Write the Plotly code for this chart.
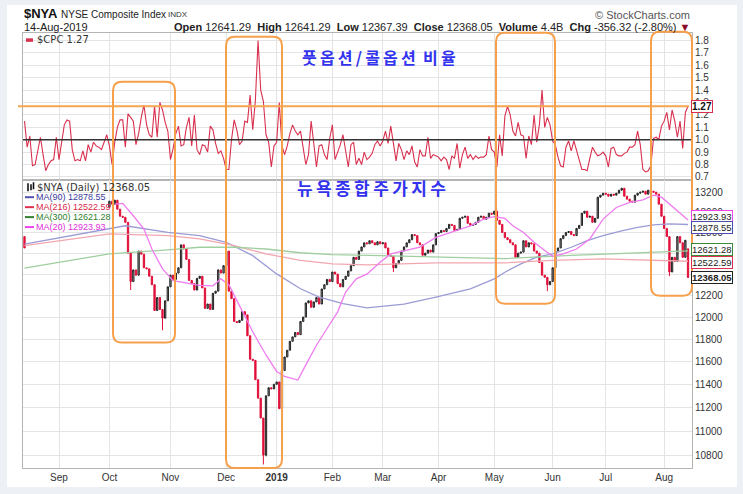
import math
import pandas as pd
import plotly.graph_objects as go

W, H = 743, 494

# ---------------- data ----------------
holidays = ["2018-09-03", "2018-11-22", "2018-12-05", "2018-12-25", "2019-01-01",
            "2019-01-21", "2019-02-18", "2019-04-19", "2019-05-27", "2019-07-04"]
dates = [d for d in pd.bdate_range("2018-08-15", "2019-08-14")
         if d.strftime("%Y-%m-%d") not in holidays]

month_labels = ["Sep", "Oct", "Nov", "Dec", "<b>2019</b>", "Feb", "Mar", "Apr",
                "May", "Jun", "Jul", "Aug"]

cpc = [1.15, 0.94, 1.03, 0.79, 0.80, 0.92, 1.02, 0.88, 0.75, 0.80,
       0.83, 0.84, 1.02, 0.84, 1.00, 1.12, 1.16, 1.15, 0.92, 0.83,
       0.84, 0.83, 0.91, 0.83, 0.96, 0.90, 0.98, 0.95, 0.94, 0.92,
       0.98, 1.04, 0.95, 0.80, 0.98, 1.10, 1.16, 1.16, 0.94, 1.21,
       1.18, 1.15, 0.96, 1.05, 1.18, 1.28, 1.12, 1.04, 1.02, 1.27,
       1.02, 1.30, 1.24, 1.14, 1.07, 0.84, 0.93, 1.05, 1.11, 0.95,
       0.96, 1.10, 1.18, 0.95, 1.20, 0.92, 0.88, 0.96, 0.95, 0.90,
       1.11, 1.08, 0.97, 0.89, 0.91, 0.85, 0.76, 0.76, 1.00, 1.16,
       1.08, 0.96, 0.99, 1.15, 1.14, 1.36, 1.08, 1.32, 1.80, 1.40,
       1.31, 1.04, 0.98, 0.78, 0.95, 0.98, 1.30, 0.95, 0.88, 0.95,
       1.05, 1.12, 1.07, 1.04, 1.07, 0.95, 0.80, 0.88, 1.15, 0.97,
       0.78, 0.95, 0.96, 0.88, 0.84, 1.01, 1.12, 0.84, 0.90, 0.96,
       1.04, 0.90, 0.78, 0.96, 0.98, 0.80, 0.85, 0.80, 0.90, 0.84,
       0.86, 0.89, 0.96, 0.99, 0.95, 0.99, 1.07, 0.97, 1.11, 0.97,
       0.83, 0.97, 0.92, 0.84, 0.91, 0.88, 0.95, 0.82, 0.78, 0.92,
       0.87, 0.87, 1.02, 0.85, 0.88, 0.87, 0.86, 0.83, 0.86, 0.84,
       0.76, 0.87, 0.85, 0.97, 0.77, 0.88, 0.94, 0.85, 0.88, 0.84,
       0.87, 0.85, 0.86, 0.86, 0.88, 1.03, 0.92, 0.90, 0.78, 1.04,
       0.87, 1.19, 1.27, 1.20, 1.07, 1.03, 1.14, 1.04, 1.03, 0.85,
       1.03, 0.96, 1.20, 0.98, 1.12, 1.40, 1.10, 1.18, 1.12, 0.99,
       0.96, 0.86, 0.79, 0.78, 0.94, 0.99, 0.91, 0.99, 0.91, 0.84,
       0.76, 0.76, 0.75, 0.85, 0.94, 0.90, 0.87, 0.88, 0.90, 0.87,
       0.78, 0.93, 0.94, 0.88, 0.87, 0.87, 0.89, 0.90, 0.94, 0.94,
       0.96, 1.07, 0.96, 0.76, 0.74, 0.75, 0.79, 1.01, 1.02, 1.00,
       1.11, 1.15, 1.22, 1.08, 1.24, 1.15, 1.02, 1.15, 0.93, 1.22, 1.27]

# NYA daily closes: one early print (day 0), then from day 32 (1-Oct-2018) onward
nya_first_close = 12650
nya_start = 32
nya_close = [13110, 13080, 13120, 13030, 12960, 12950, 12900, 12600, 12330, 12440,
             12390, 12620, 12590, 12460, 12450, 12380, 12300, 12060, 12180, 12070,
             11990, 12150, 12280, 12390, 12350, 12410, 12460, 12680, 12640, 12540,
             12340, 12310, 12250, 12360, 12380, 12270, 12080, 12120, 12070, 12220,
             12240, 12440, 12410, 12480, 12620, 12240, 12170, 11960, 11950, 11970,
             12050, 12020, 11830, 11620, 11610, 11440, 11280, 11110, 10800, 11300,
             11370, 11360, 11400, 11420, 11190, 11520, 11640, 11700, 11780, 11820,
             11860, 11840, 11960, 12000, 12130, 12150, 12090, 12140, 12180, 12120,
             12260, 12300, 12350, 12330, 12420, 12400, 12310, 12280, 12350, 12380,
             12430, 12480, 12560, 12540, 12620, 12660, 12700, 12690, 12720, 12700,
             12680, 12710, 12690, 12700, 12650, 12580, 12570, 12460, 12500, 12530,
             12620, 12660, 12700, 12730, 12780, 12770, 12700, 12680, 12580, 12600,
             12630, 12610, 12680, 12790, 12800, 12820, 12810, 12840, 12880, 12870,
             12820, 12830, 12940, 12950, 12960, 12890, 12870, 12880, 12900, 12950,
             12960, 12930, 12950, 12990, 12980, 13010, 12920, 12880, 12800, 12750,
             12730, 12700, 12680, 12560, 12600, 12610, 12720, 12660, 12700, 12690,
             12620, 12600, 12510, 12390, 12370, 12300, 12330, 12460, 12620, 12650,
             12740, 12770, 12800, 12810, 12780, 12770, 12840, 12870, 12990, 13010,
             12950, 12960, 12900, 12940, 13150, 13170, 13190, 13180, 13160, 13180,
             13170, 13190, 13220, 13240, 13160, 13130, 13110, 13100, 13170, 13190,
             13200, 13210, 13180, 13220, 13210, 13200, 13180, 13080, 12960, 12840,
             12760, 12420, 12560, 12520, 12760, 12700, 12560, 12724.37, 12368.05]
open_fix_idx = [0, 32, 250]
open_fix_val = [12760, 13050, 12641.29]
wick_idx = [40, 52, 90, 91, 139, 197, 243, 250]
wick_low = [12250, 11880, 10723, 10790, 12420, 12240, 12380, 12367.39]

ma20_idx = [34, 37, 41, 45, 48, 52, 56, 60, 66, 71, 74, 77, 81, 86, 91, 95, 98, 100, 103,
            106, 110, 114, 118, 121, 125, 129, 134, 138, 143, 149, 155, 162, 168, 173,
            177, 181, 184, 188, 192, 196, 199, 203, 208, 213, 218, 223, 228, 233, 237,
            240, 243, 246, 250]
ma20_val = [13080, 13088, 12965, 12834, 12640, 12450, 12339, 12320, 12293, 12290, 12355,
            12300, 12108, 11866, 11658, 11512, 11468, 11453, 11437, 11570, 11745, 11896,
            12048, 12231, 12355, 12400, 12513, 12593, 12625, 12657, 12753, 12817, 12866,
            12932, 12957, 12938, 12866, 12801, 12705, 12625, 12570, 12593, 12640, 12737,
            12932, 13047, 13098, 13123, 13170, 13150, 13080, 13010, 12923.93]
ma90_idx = [0, 38, 54, 66, 76, 86, 95, 104, 111, 120, 129, 143, 155, 168, 177, 181, 187,
            193, 199, 206, 212, 218, 225, 231, 237, 243, 250]
ma90_val = [12688, 12866, 12801, 12769, 12705, 12576, 12402, 12262, 12185, 12124, 12085,
            12120, 12185, 12262, 12355, 12418, 12497, 12561, 12593, 12657, 12721, 12769,
            12817, 12850, 12875, 12885, 12878.55]
ma216_idx = [0, 32, 54, 66, 79, 91, 104, 116, 129, 155, 181, 199, 218, 237, 250]
ma216_val = [12672, 12786, 12769, 12737, 12672, 12593, 12530, 12497, 12487, 12507, 12507,
             12530, 12545, 12535, 12522.59]
ma300_idx = [0, 32, 54, 66, 79, 91, 104, 116, 130, 155, 181, 206, 231, 243, 250]
ma300_val = [12457, 12593, 12631, 12657, 12657, 12640, 12604, 12585, 12578, 12561, 12548,
             12578, 12604, 12610, 12621.28]

# ---------------- build ----------------
N = len(dates)
x = list(range(N))
month_idx = [i for i in range(1, N) if dates[i].month != dates[i - 1].month]

close = [None] * N
close[0] = nya_first_close
for k, v in enumerate(nya_close):
    close[nya_start + k] = v
opn = [None] * N
for i in range(N):
    if close[i] is None:
        continue
    opn[i] = close[i - 1] if i > 0 and close[i - 1] is not None else close[i]
for i, v in zip(open_fix_idx, open_fix_val):
    opn[i] = v
high = [None if c is None else max(o, c) for o, c in zip(opn, close)]
low = [None if c is None else min(o, c) for o, c in zip(opn, close)]
for i, v in zip(wick_idx, wick_low):
    low[i] = min(low[i], v)


def X(px):
    return px / W


def Y(py):
    return 1 - py / H


fig = go.Figure()

CPC_COL = "#d8304e"
fig.add_trace(go.Scatter(x=x, y=cpc, mode="lines", line=dict(color=CPC_COL, width=1.1),
                         xaxis="x", yaxis="y", hoverinfo="skip"))

fig.add_trace(go.Scatter(x=ma90_idx, y=ma90_val, mode="lines",
                         line=dict(color="#9b9bd6", width=1.3), xaxis="x2", yaxis="y2"))
fig.add_trace(go.Scatter(x=ma216_idx, y=ma216_val, mode="lines",
                         line=dict(color="#f2a7b0", width=1.3), xaxis="x2", yaxis="y2"))
fig.add_trace(go.Scatter(x=ma300_idx, y=ma300_val, mode="lines",
                         line=dict(color="#9fcf9f", width=1.3), xaxis="x2", yaxis="y2"))
fig.add_trace(go.Scatter(x=ma20_idx, y=ma20_val, mode="lines",
                         line=dict(color="#ef7cef", width=1.3), xaxis="x2", yaxis="y2"))

fig.add_trace(go.Candlestick(
    x=x, open=opn, high=high, low=low, close=close, xaxis="x2", yaxis="y2",
    increasing=dict(line=dict(color="#222222", width=1), fillcolor="#a0a0a0"),
    decreasing=dict(line=dict(color="#e0103a", width=1), fillcolor="#e0103a"),
    whiskerwidth=0, hoverinfo="skip"))

grid = "#e4e4e4"
frame = "#b4b4b4"
tickfont = dict(family="Liberation Sans, Arial", size=10, color="#333")
xr = [-0.565, 251.5]

cpc_ticks = [round(0.7 + 0.1 * k, 1) for k in range(12)]
nya_ticks = list(range(10800, 13201, 200))
nya_text = ["" if v in (12400, 12600) else str(v) for v in nya_ticks]

fig.update_layout(
    width=W, height=H, margin=dict(l=0, r=0, t=0, b=0),
    paper_bgcolor="#edf0f5", plot_bgcolor="white", showlegend=False,
    xaxis=dict(domain=[X(23), X(692)], range=xr, anchor="y", tickvals=month_idx,
               showticklabels=False, showgrid=True, gridcolor=grid, zeroline=False,
               showline=True, mirror=True, linecolor=frame, ticks=""),
    yaxis=dict(domain=[Y(181), Y(33)], range=[0.673, 1.862], side="right",
               tickvals=cpc_ticks, ticktext=["%.1f" % v for v in cpc_ticks],
               tickfont=tickfont, showgrid=True, gridcolor=grid, zeroline=False,
               showline=True, mirror=True, linecolor=frame, ticks=""),
    xaxis2=dict(domain=[X(23), X(692)], range=xr, anchor="y2", tickvals=month_idx,
                ticktext=month_labels, tickfont=tickfont, showgrid=True, gridcolor=grid,
                zeroline=False, showline=True, mirror=True, linecolor=frame, ticks="",
                rangeslider=dict(visible=False)),
    yaxis2=dict(domain=[Y(470), Y(181)], type="log", range=[4.02912, 4.12453],
                side="right", tickvals=nya_ticks, ticktext=nya_text, tickfont=tickfont,
                showgrid=True, gridcolor=grid, zeroline=False, showline=True, mirror=True,
                linecolor=frame, ticks=""),
)

shapes = []
# white page card
shapes.append(dict(type="rect", xref="paper", yref="paper", x0=X(7), x1=X(737),
                   y0=Y(489), y1=Y(5), fillcolor="white", line=dict(width=0), layer="below"))
# 1.0 reference line
shapes.append(dict(type="line", xref="paper", yref="y", x0=X(23), x1=X(692), y0=1.0, y1=1.0,
                   line=dict(color="#333333", width=1.5)))
# orange 1.27 line
shapes.append(dict(type="line", xref="paper", yref="y", x0=X(18), x1=X(689), y0=1.27, y1=1.27,
                   line=dict(color="#f6a552", width=2)))


def rbox(x0, y0, x1, y1, r=9):
    rx, ry = r / W, r / H
    a0, a1, b0, b1 = X(x0), X(x1), Y(y1), Y(y0)
    p = (f"M{a0 + rx},{b1} L{a1 - rx},{b1} Q{a1},{b1} {a1},{b1 - ry} "
         f"L{a1},{b0 + ry} Q{a1},{b0} {a1 - rx},{b0} L{a0 + rx},{b0} "
         f"Q{a0},{b0} {a0},{b0 + ry} L{a0},{b1 - ry} Q{a0},{b1} {a0 + rx},{b1} Z")
    return dict(type="path", xref="paper", yref="paper", path=p,
                line=dict(color="#f6a04c", width=2))


for b in [(113, 82, 175, 344), (226, 37, 282, 470), (496, 33, 555, 305), (651, 32, 692, 297)]:
    shapes.append(rbox(*b))

# legend markers
shapes.append(dict(type="rect", xref="paper", yref="paper", x0=X(26), x1=X(33),
                   y0=Y(42), y1=Y(38.5), fillcolor=CPC_COL, line=dict(width=0)))
for yy, col in [(198, "#5050b0"), (208, "#e03050"), (218, "#2f7f2f"), (228, "#ee44ee")]:
    shapes.append(dict(type="line", xref="paper", yref="paper", x0=X(25), x1=X(34),
                       y0=Y(yy), y1=Y(yy), line=dict(color=col, width=2)))
for xx, y0, y1 in [(28, 184, 192), (31, 185, 191), (33.5, 183, 190)]:
    shapes.append(dict(type="line", xref="paper", yref="paper", x0=X(xx), x1=X(xx),
                       y0=Y(y1), y1=Y(y0), line=dict(color="#111", width=1.6)))
fig.update_layout(shapes=shapes)

ann = []


def txt(px, py, s, size=11, color="#222", family="Liberation Sans, Arial", anchor="left"):
    ann.append(dict(xref="paper", yref="paper", x=X(px), y=Y(py), text=s, showarrow=False,
                    xanchor=anchor, yanchor="middle", font=dict(family=family, size=size,
                                                                color=color)))


TS = "\u2009"
txt(22, 14, "<b>$NYA</b>", size=13, color="#111")
txt(59, 15, "NYSE Composite Index", size=10, color="#222")
txt(166, 15, "INDX", size=8, color="#333")
txt(22, 27, "14-Aug-2019", size=11, color="#222")
txt(692, 15, "© StockCharts.com", size=11, color="#555", anchor="right")
txt(692, 27, "<b>Open</b> 12641.29  <b>High</b> 12641.29  <b>Low</b> 12367.39  "
    "<b>Close</b> 12368.05  <b>Volume</b> 4.4B  <b>Chg</b> -356.32 (-2.80%) "
    "<span style='color:#8b0a2a'>▼</span>", size=11, color="#222", anchor="right")

txt(35, 40, "$CPC 1.27", size=10, color="#333", family="DejaVu Sans, Verdana")
txt(35, 188, "$NYA (Daily) 12368.05", size=10, color="#333", family="DejaVu Sans, Verdana")
txt(34, 198, "MA(90) 12878.55", size=9, color="#3a3a9a")
txt(34, 208, "MA(216) 12522.59", size=9, color="#d8284a")
txt(34, 218, "MA(300) 12621.28", size=9, color="#2f7f2f")
txt(34, 228, "MA(20) 12923.93", size=9, color="#e030e0")

kr1 = TS.join(list("풋옵션/콜옵션")) + "  " + TS.join(list("비율"))
kr2 = TS.join(list("뉴욕종합주가지수"))
txt(300, 57, "<b>%s</b>" % kr1, size=16, color="#3333ee", family="Noto Sans CJK KR")
txt(295, 188, "<b>%s</b>" % kr2, size=17, color="#3333ee", family="Noto Sans CJK KR")

# value boxes on right axis
ann.append(dict(xref="paper", yref="y", x=X(691), y=1.27, text="<b>1.27</b>", showarrow=False,
                xanchor="left", yanchor="middle", bgcolor="white", bordercolor="#d8304e",
                borderwidth=1, borderpad=0, font=dict(family="Liberation Sans, Arial",
                                                      size=10, color="#111")))
for v, col, bold, ys in [(12923.93, "#ee44ee", False, 3), (12878.55, "#4b4bb0", False, -3),
                         (12621.28, "#3a8a3a", False, 1), (12522.59, "#e03050", False, -1),
                         (12368.05, "#222222", True, 0)]:
    s = "%.2f" % v
    ann.append(dict(xref="paper", yref="y2", x=X(691), y=math.log10(v), yshift=ys,
                    text=("<b>%s</b>" % s) if bold else s, showarrow=False,
                    xanchor="left", yanchor="middle", bgcolor="white", bordercolor=col,
                    borderwidth=1, borderpad=0,
                    font=dict(family="Liberation Sans, Arial", size=9.5, color="#222")))
fig.update_layout(annotations=ann)

fig.write_html("out.html")
